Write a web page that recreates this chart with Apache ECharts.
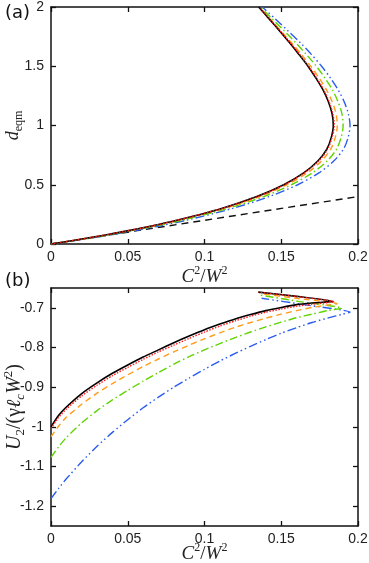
<!DOCTYPE html>
<html>
<head>
<meta charset="utf-8">
<script src="https://cdn.jsdelivr.net/npm/echarts@6/dist/echarts.min.js"></script>
<style>
  html, body { margin: 0; padding: 0; background: #fff; }
  #chart { width: 369px; height: 563px; }
</style>
</head>
<body>
<div id="chart"></div>
<script>
// panel (a): d_eqm against C^2/W^2, one x list per curve on shared d values
var dVals  = [0, 0.05, 0.1, 0.15, 0.2, 0.3, 0.4, 0.5, 0.6, 0.7, 0.8, 0.9, 1.0, 1.1, 1.2, 1.3, 1.4, 1.5, 1.6, 1.7, 1.8, 1.9, 2.0];
var aBlack  = [0, 0.0238, 0.0452, 0.0646, 0.0819, 0.1111, 0.1341, 0.1516, 0.1646, 0.1738, 0.1797, 0.1826, 0.1839, 0.1831, 0.1807, 0.1772, 0.1726, 0.1674, 0.1615, 0.1553, 0.1488, 0.1421, 0.1353];
var aRed    = [0, 0.0239, 0.0454, 0.0648, 0.0821, 0.1114, 0.1345, 0.1521, 0.1651, 0.1743, 0.1802, 0.1831, 0.1845, 0.1836, 0.1812, 0.1777, 0.1731, 0.1679, 0.1620, 0.1558, 0.1492, 0.1425, 0.1357];
var aOrange = [0, 0.0243, 0.0461, 0.0658, 0.0832, 0.1128, 0.1360, 0.1537, 0.1669, 0.1762, 0.1822, 0.1852, 0.1865, 0.1857, 0.1832, 0.1795, 0.1747, 0.1692, 0.1631, 0.1565, 0.1497, 0.1427, 0.1357];
var aGreen  = [0, 0.0250, 0.0472, 0.0672, 0.0852, 0.1150, 0.1385, 0.1566, 0.1702, 0.1799, 0.1860, 0.1890, 0.1903, 0.1895, 0.1870, 0.1834, 0.1785, 0.1729, 0.1663, 0.1593, 0.1518, 0.1441, 0.1364];
var aBlue   = [0, 0.0262, 0.0493, 0.0698, 0.0880, 0.1183, 0.1421, 0.1607, 0.1745, 0.1842, 0.1905, 0.1936, 0.1948, 0.1937, 0.1910, 0.1871, 0.1821, 0.1763, 0.1696, 0.1623, 0.1543, 0.1461, 0.1377];
var aLineX = [0, 0.2];
var aLineD = [0, 0.4];

// panel (b): U2/(gamma lc W^2), lower branch on shared x, then nose + upper branch
var bX = [0, 0.005, 0.01, 0.02, 0.03, 0.04, 0.05, 0.06, 0.07, 0.08, 0.09, 0.1, 0.11, 0.12, 0.13, 0.14, 0.15, 0.16, 0.17, 0.18];
var bBlack  = [-1.0, -0.971, -0.950, -0.916, -0.889, -0.865, -0.844, -0.824, -0.806, -0.788, -0.771, -0.755, -0.741, -0.728, -0.717, -0.707, -0.699, -0.692, -0.688, -0.685];
var bRed    = [-1.004, -0.976, -0.955, -0.922, -0.895, -0.871, -0.850, -0.830, -0.811, -0.794, -0.777, -0.761, -0.746, -0.733, -0.721, -0.711, -0.703, -0.696, -0.691, -0.687];
var bOrange = [-1.025, -0.998, -0.976, -0.943, -0.915, -0.891, -0.869, -0.848, -0.829, -0.811, -0.794, -0.778, -0.763, -0.749, -0.737, -0.726, -0.716, -0.707, -0.699, -0.693];
var bGreen  = [-1.077, -1.050, -1.027, -0.990, -0.959, -0.932, -0.908, -0.885, -0.863, -0.842, -0.823, -0.806, -0.790, -0.775, -0.761, -0.748, -0.736, -0.725, -0.716, -0.707];
var bBlue   = [-1.181, -1.155, -1.131, -1.088, -1.049, -1.014, -0.982, -0.952, -0.925, -0.900, -0.877, -0.855, -0.834, -0.815, -0.797, -0.780, -0.764, -0.750, -0.737, -0.726];
var bBlackTail  = [[0.184, -0.684], [0.16, -0.671], [0.135, -0.6605]];
var bRedTail    = [[0.1845, -0.685], [0.16, -0.6715], [0.1352, -0.6605]];
var bOrangeTail = [[0.1865, -0.690], [0.16, -0.676], [0.136, -0.664]];
var bGreenTail  = [[0.1895, -0.701], [0.16, -0.683], [0.1365, -0.668]];
var bBlueTail   = [[0.19, -0.716], [0.1948, -0.711], [0.165, -0.692], [0.1372, -0.676]];

var yTicksB = [-1.2, -1.1, -1, -0.9, -0.8, -0.7];

function curveA(xs) {
  return xs.map(function (x, i) { return [x, dVals[i]]; });
}
function curveB(us, tail) {
  return bX.map(function (x, i) { return [x, us[i]]; }).concat(tail);
}

var serif = 'Liberation Serif';
function mathRich(big, small) {
  return {
    i: { fontFamily: serif, fontStyle: 'italic', fontSize: big, lineHeight: big + 5, color: '#222' },
    n: { fontFamily: serif, fontSize: big, lineHeight: big + 5, color: '#222' },
    p: { fontFamily: serif, fontSize: small, lineHeight: small, verticalAlign: 'top', color: '#222' },
    s: { fontFamily: serif, fontSize: small, lineHeight: small, verticalAlign: 'bottom', color: '#222' },
    si: { fontFamily: serif, fontStyle: 'italic', fontSize: small, lineHeight: small, verticalAlign: 'bottom', color: '#222' }
  };
}

var tickLabel = { fontFamily: 'Liberation Sans', fontSize: 14, color: '#222' };
var axisLine = { onZero: false, lineStyle: { color: '#111', width: 1.5 } };
var tick = { inside: true, length: 5, lineStyle: { color: '#111', width: 1.3 } };

function mainX(grid, gap) {
  return {
    type: 'value', gridIndex: grid, position: 'bottom', min: 0, max: 0.2, interval: 0.05,
    axisLine: axisLine, axisTick: tick, splitLine: { show: false },
    axisLabel: Object.assign({ margin: 6 }, tickLabel),
    name: '{i|C}{p|2}{n|/}{i|W}{p|2}', nameLocation: 'middle', nameGap: gap, nameMoveOverlap: false,
    nameTextStyle: { rich: mathRich(19, 12) }
  };
}
function topX(grid) {
  return {
    type: 'value', gridIndex: grid, position: 'top', min: 0, max: 0.2, interval: 0.05,
    axisLine: axisLine, axisTick: tick, axisLabel: { show: false }, splitLine: { show: false }
  };
}

var option = {
  animation: false,
  backgroundColor: '#fff',
  grid: [
    { left: 51, top: 7, width: 307, height: 237, outerBoundsMode: 'none' },
    { left: 51, top: 288, width: 307, height: 238, outerBoundsMode: 'none' }
  ],
  graphic: [
    { type: 'text', left: 5, top: 4, style: { text: '(a)', fontFamily: 'DejaVu Sans', fontSize: 18, fill: '#111' } },
    { type: 'text', left: 5, top: 272, style: { text: '(b)', fontFamily: 'DejaVu Sans', fontSize: 18, fill: '#111' } }
  ],
  xAxis: [mainX(0, 21), topX(0), mainX(1, 16), topX(1)],
  yAxis: [
    {
      type: 'value', gridIndex: 0, position: 'left', min: 0, max: 2, interval: 0.5,
      axisLine: axisLine, axisTick: tick, splitLine: { show: false },
      axisLabel: Object.assign({ margin: 7 }, tickLabel),
      name: '{i|d}{s|eqm}', nameLocation: 'middle', nameGap: 26, nameMoveOverlap: false,
      nameTextStyle: { rich: mathRich(18, 12) }
    },
    {
      type: 'value', gridIndex: 0, position: 'right', min: 0, max: 2, interval: 0.5,
      axisLine: axisLine, axisTick: tick, axisLabel: { show: false }, splitLine: { show: false }
    },
    {
      type: 'value', gridIndex: 1, position: 'left', min: -1.25, max: -0.65,
      axisLine: axisLine, splitLine: { show: false },
      axisTick: Object.assign({ customValues: yTicksB }, tick),
      axisLabel: Object.assign({ margin: 7, customValues: yTicksB }, tickLabel),
      name: '{i|U}{s|2}{n|/(γ}{i|ℓ}{si|c}{i|W}{p|2}{n|)}', nameLocation: 'middle', nameGap: 24, nameMoveOverlap: false,
      nameTextStyle: { rich: mathRich(20, 13) }
    },
    {
      type: 'value', gridIndex: 1, position: 'right', min: -1.25, max: -0.65,
      axisLine: axisLine, splitLine: { show: false },
      axisTick: Object.assign({ customValues: yTicksB }, tick), axisLabel: { show: false }
    }
  ],
  series: [
    { type: 'line', xAxisIndex: 0, yAxisIndex: 0, data: aLineX.map(function (x, i) { return [x, aLineD[i]]; }),
      symbol: 'none', lineStyle: { color: '#111', width: 1.4, type: [7, 5] } },
    { type: 'line', xAxisIndex: 0, yAxisIndex: 0, data: curveA(aBlue), symbol: 'none', smooth: 0.3,
      lineStyle: { color: '#2a5cf0', width: 1.4, type: [9, 3, 1.5, 3, 1.5, 3] } },
    { type: 'line', xAxisIndex: 0, yAxisIndex: 0, data: curveA(aGreen), symbol: 'none', smooth: 0.3,
      lineStyle: { color: '#5fd400', width: 1.4, type: [8, 3, 1.5, 3] } },
    { type: 'line', xAxisIndex: 0, yAxisIndex: 0, data: curveA(aOrange), symbol: 'none', smooth: 0.3,
      lineStyle: { color: '#ff9c1a', width: 1.4, type: [6, 4] } },
    { type: 'line', xAxisIndex: 0, yAxisIndex: 0, data: curveA(aBlack), symbol: 'none', smooth: 0.3,
      lineStyle: { color: '#000', width: 1.6 } },
    { type: 'line', xAxisIndex: 0, yAxisIndex: 0, data: curveA(aRed), symbol: 'none', smooth: 0.3,
      lineStyle: { color: '#ff1a1a', width: 1.4, type: [1.5, 1.5] } },

    { type: 'line', xAxisIndex: 2, yAxisIndex: 2, data: curveB(bBlue, bBlueTail), symbol: 'none', smooth: 0.2,
      lineStyle: { color: '#2a5cf0', width: 1.4, type: [9, 3, 1.5, 3, 1.5, 3] } },
    { type: 'line', xAxisIndex: 2, yAxisIndex: 2, data: curveB(bGreen, bGreenTail), symbol: 'none', smooth: 0.2,
      lineStyle: { color: '#5fd400', width: 1.4, type: [8, 3, 1.5, 3] } },
    { type: 'line', xAxisIndex: 2, yAxisIndex: 2, data: curveB(bOrange, bOrangeTail), symbol: 'none', smooth: 0.2,
      lineStyle: { color: '#ff9c1a', width: 1.4, type: [6, 4] } },
    { type: 'line', xAxisIndex: 2, yAxisIndex: 2, data: curveB(bBlack, bBlackTail), symbol: 'none', smooth: 0.2,
      lineStyle: { color: '#000', width: 1.6 } },
    { type: 'line', xAxisIndex: 2, yAxisIndex: 2, data: curveB(bRed, bRedTail), symbol: 'none', smooth: 0.2,
      lineStyle: { color: '#ff1a1a', width: 1.4, type: [1.5, 1.5] } }
  ]
};

var myChart = echarts.init(document.getElementById('chart'));
myChart.setOption(option);
</script>
</body>
</html>
